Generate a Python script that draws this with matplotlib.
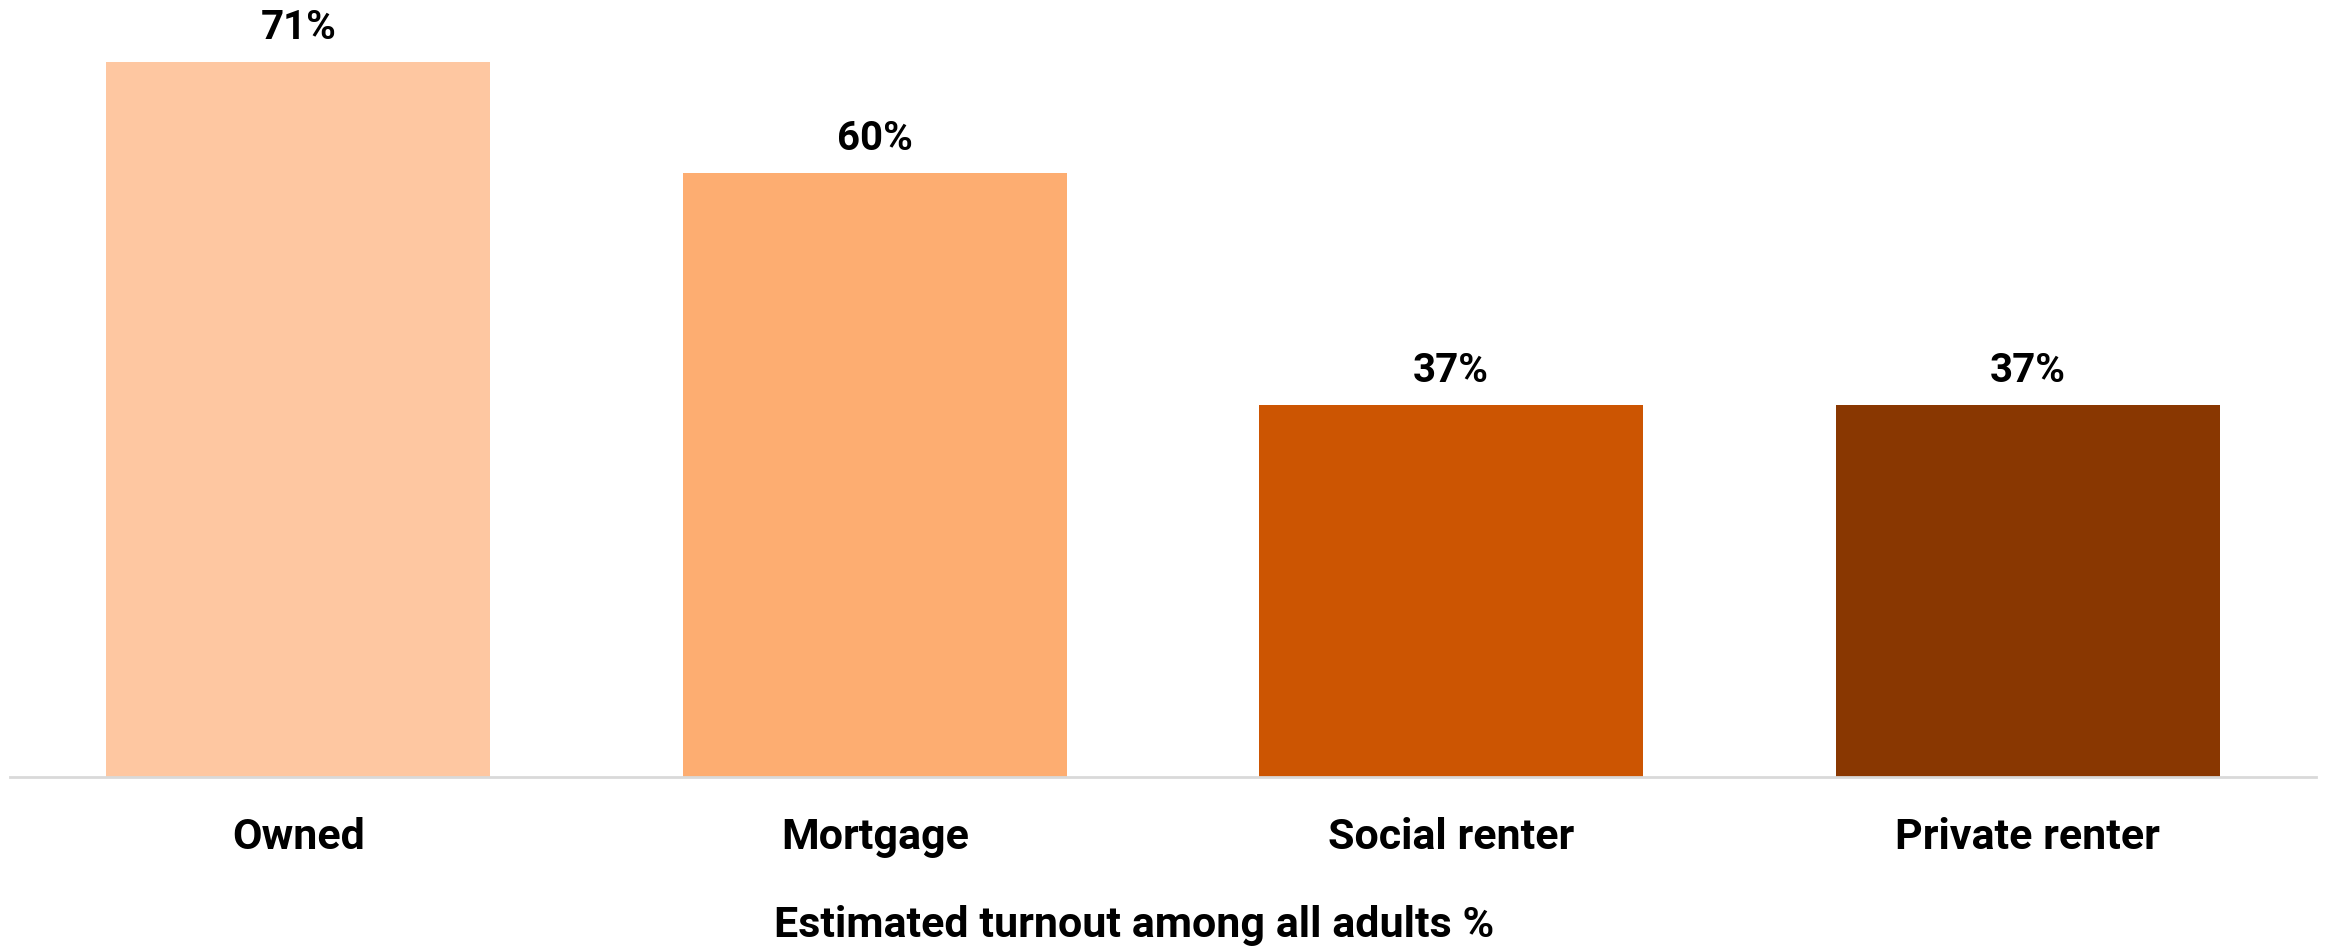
import matplotlib.pyplot as plt

plt.rcParams['font.family'] = ['Roboto', 'DejaVu Sans']

# Daten
categories = ["Owned", "Mortgage", "Social renter", "Private renter"]
turnout = [71, 60, 37, 37]
value_labels = ["71%", "60%", "37%", "37%"]
colors = ["#FEC7A1", "#FDAD71", "#CC5502", "#893701"]

fig = plt.figure(figsize=(23.25, 9.47), dpi=100)
ax = fig.add_axes([10 / 2325, 170 / 947, 2306 / 2325, 777 / 947])

x = range(len(categories))
bars = ax.bar(x, turnout, width=0.666, color=colors, zorder=2)

# vrednosti nad stolpci
for xi, v, lab in zip(x, turnout, value_labels):
    ax.text(xi, v + 1.5, lab, ha="center", va="bottom",
            fontsize=29, fontweight="bold", color="black")

ax.set_xlim(-0.5, 3.5)
ax.set_ylim(0, 77.2)
ax.set_xticks(list(x))
ax.set_xticklabels(categories, fontsize=31, fontweight="bold")
ax.tick_params(axis="x", length=0, pad=29)
ax.set_yticks([])

for s in ["top", "left", "right"]:
    ax.spines[s].set_visible(False)
ax.spines["bottom"].set_color("#D9D9D9")
ax.spines["bottom"].set_linewidth(2)

fig.text(1134 / 2325, 1 - 925 / 947, "Estimated turnout among all adults %",
         ha="center", va="center", fontsize=31, fontweight="bold")

fig.savefig("out.png", dpi=100, facecolor="white")
